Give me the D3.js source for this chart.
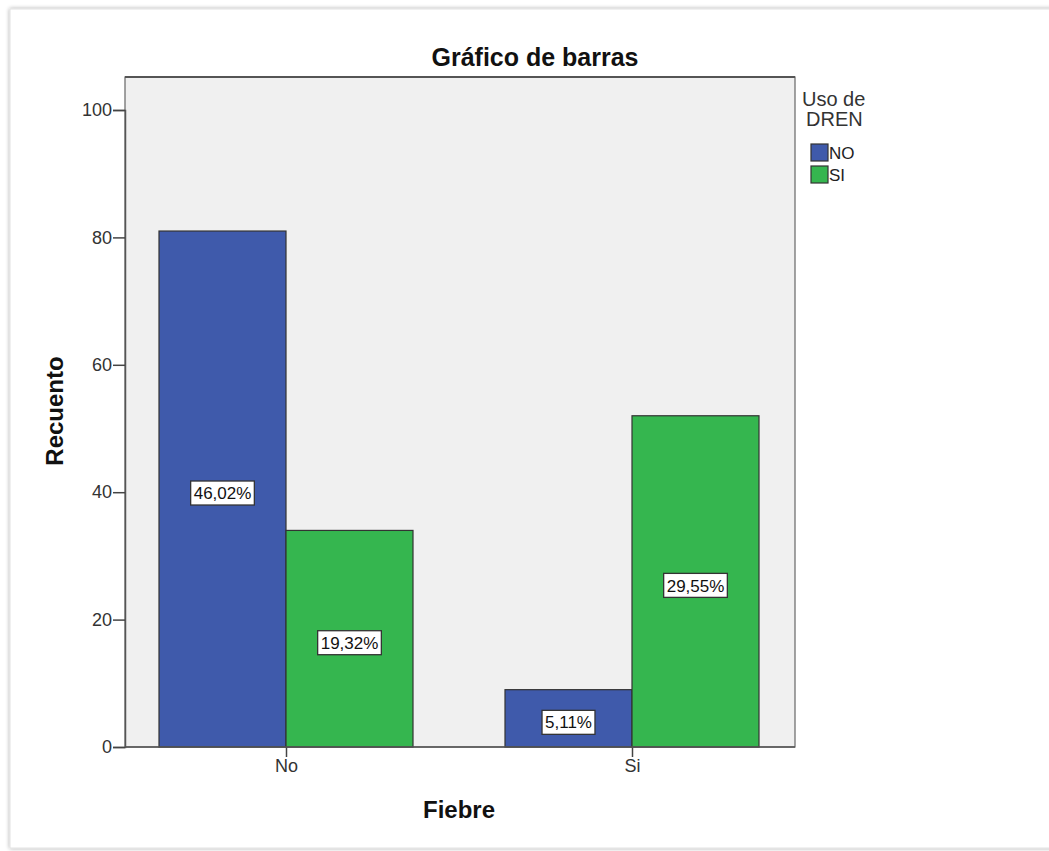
<!DOCTYPE html>
<html>
<head>
<meta charset="utf-8">
<script src="https://cdn.jsdelivr.net/npm/d3@7"></script>
<style>
  html, body { margin: 0; padding: 0; background: #fff; }
  svg { display: block; font-family: "Liberation Sans", Arial, sans-serif; }
</style>
</head>
<body>
<svg id="chart" width="1049" height="851"></svg>
<script>
// Fiebre × Uso de DREN (counts and share of total)
const categories = ["No", "Si"];
const seriesNames = ["NO", "SI"];
const countsNO = [81, 9];
const countsSI = [34, 52];
const percentNO = ["46,02%", "5,11%"];
const percentSI = ["19,32%", "29,55%"];
const yTicks = [0, 20, 40, 60, 80, 100];
const colors = ["#3F5AAB", "#35B64F"];

const svg = d3.select("#chart");

// Soft framed card behind the chart
const defs = svg.append("defs");
const f = defs.append("filter").attr("id", "shadow").attr("x", "-5%").attr("y", "-5%").attr("width", "110%").attr("height", "110%");
f.append("feGaussianBlur").attr("in", "SourceAlpha").attr("stdDeviation", 2);
f.append("feComponentTransfer").append("feFuncA").attr("type", "linear").attr("slope", 0.35);
const fm = f.append("feMerge");
fm.append("feMergeNode");
fm.append("feMergeNode").attr("in", "SourceGraphic");

svg.append("rect")
  .attr("x", 10).attr("y", 9).attr("width", 1060).attr("height", 839)
  .attr("fill", "#fff").attr("stroke", "#e2e2e2").attr("filter", "url(#shadow)");

const plot = { left: 125, right: 795, top: 77, bottom: 747 };

const y = d3.scaleLinear().domain([0, 100]).range([plot.bottom, 110]);
// category centres sit where the two bars of a group meet
const x0 = d3.scalePoint().domain(categories).range([286, 632]);
const barW = 127;
const x1 = d3.scaleBand().domain(seriesNames).range([-barW, barW]);

// Plot background
svg.append("rect")
  .attr("x", plot.left).attr("y", plot.top)
  .attr("width", plot.right - plot.left).attr("height", plot.bottom - plot.top)
  .attr("fill", "#f0f0f0").attr("stroke", "#666").attr("stroke-width", 1.2);
svg.append("line")
  .attr("x1", plot.left).attr("x2", plot.right).attr("y1", plot.top).attr("y2", plot.top)
  .attr("stroke", "#555").attr("stroke-width", 2);

// Bars
const rows = categories.map((c, i) => ({
  cat: c,
  vals: [
    { s: "NO", v: countsNO[i], p: percentNO[i], color: colors[0] },
    { s: "SI", v: countsSI[i], p: percentSI[i], color: colors[1] }
  ]
}));

const groups = svg.append("g").selectAll("g").data(rows).join("g")
  .attr("transform", d => `translate(${x0(d.cat)},0)`);

groups.selectAll("rect").data(d => d.vals).join("rect")
  .attr("x", d => x1(d.s))
  .attr("y", d => y(d.v))
  .attr("width", x1.bandwidth())
  .attr("height", d => y(0) - y(d.v))
  .attr("fill", d => d.color)
  .attr("stroke", "#333").attr("stroke-width", 1.2);

// Value labels in boxed text
const lab = groups.selectAll("g.lab").data(d => d.vals).join("g").attr("class", "lab")
  .attr("transform", d => `translate(${x1(d.s) + x1.bandwidth() / 2},${(y(d.v) + y(0)) / 2 + 4})`);
lab.each(function (d) {
  const g = d3.select(this);
  const t = g.append("text").attr("text-anchor", "middle").attr("dy", "0.36em")
    .attr("font-size", 17).attr("fill", "#111").text(d.p);
  const bb = t.node().getBBox();
  g.insert("rect", "text")
    .attr("x", bb.x - 3).attr("y", -12).attr("width", bb.width + 6).attr("height", 24)
    .attr("fill", "#fff").attr("stroke", "#333").attr("stroke-width", 1.3);
});

// Axes
const yAxis = d3.axisLeft(y).tickValues(yTicks).tickSize(12).tickPadding(1);
const gy = svg.append("g").attr("transform", `translate(${plot.left},0)`).call(yAxis);
gy.select(".domain").attr("stroke", "#555").attr("stroke-width", 1.5);
gy.selectAll(".tick line").attr("stroke", "#444").attr("stroke-width", 1.5);
gy.selectAll(".tick text").attr("font-size", 18).attr("fill", "#333").attr("font-family", "Liberation Sans, Arial, sans-serif");

const xAxis = d3.axisBottom(x0).tickSize(10).tickPadding(2);
const gx = svg.append("g").attr("transform", `translate(0,${plot.bottom})`).call(xAxis);
gx.select(".domain").remove();
gx.selectAll(".tick line").attr("stroke", "#444").attr("stroke-width", 1.5);
gx.selectAll(".tick text").attr("font-size", 18).attr("fill", "#333").attr("font-family", "Liberation Sans, Arial, sans-serif");
svg.append("line").attr("x1", plot.left).attr("x2", plot.right).attr("y1", plot.bottom).attr("y2", plot.bottom)
  .attr("stroke", "#555").attr("stroke-width", 1.5);

// Titles
svg.append("text").attr("x", 535).attr("y", 66).attr("text-anchor", "middle")
  .attr("font-size", 25).attr("font-weight", "bold").attr("fill", "#111").text("Gráfico de barras");
svg.append("text").attr("transform", "translate(63,411) rotate(-90)").attr("text-anchor", "middle")
  .attr("font-size", 24).attr("font-weight", "bold").attr("fill", "#111").text("Recuento");
svg.append("text").attr("x", 459).attr("y", 818).attr("text-anchor", "middle")
  .attr("font-size", 24).attr("font-weight", "bold").attr("fill", "#111").text("Fiebre");

// Legend
const lg = svg.append("g").attr("transform", "translate(800,0)");
lg.append("text").attr("x", 2).attr("y", 106).attr("font-size", 20).attr("fill", "#333").text("Uso de");
lg.append("text").attr("x", 6).attr("y", 126).attr("font-size", 20).attr("fill", "#333").text("DREN");
const items = lg.selectAll("g.item").data(seriesNames).join("g").attr("class", "item")
  .attr("transform", (d, i) => `translate(11,${144 + i * 22})`);
items.append("rect").attr("width", 17).attr("height", 17)
  .attr("fill", (d, i) => colors[i]).attr("stroke", "#333").attr("stroke-width", 1.2);
items.append("text").attr("x", 18).attr("y", 15).attr("font-size", 17).attr("fill", "#222").text(d => d);
</script>
</body>
</html>
